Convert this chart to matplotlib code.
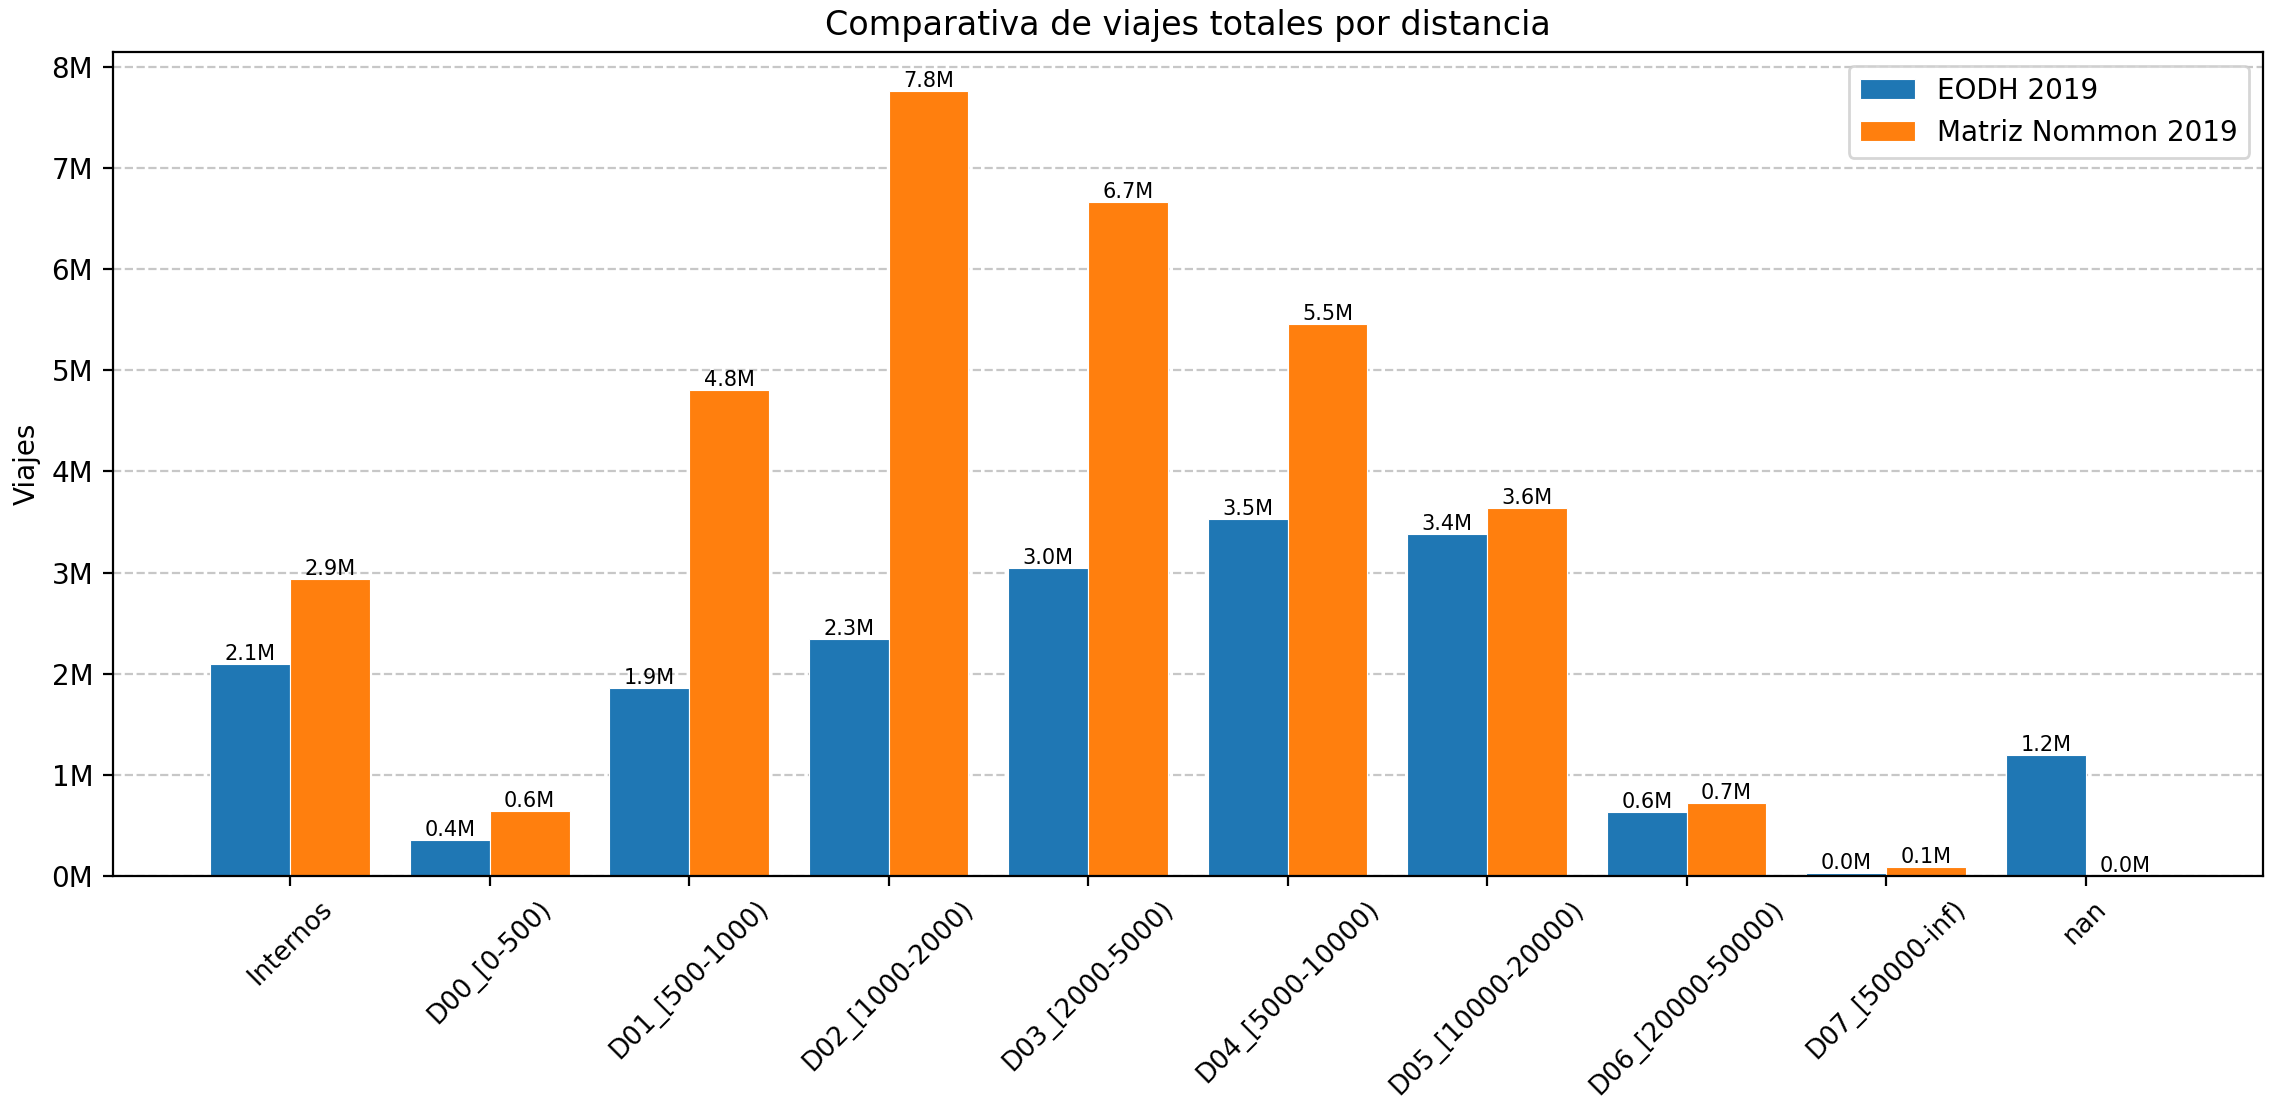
import numpy as np
import matplotlib
matplotlib.use("Agg")
import matplotlib.pyplot as plt
from matplotlib.ticker import FuncFormatter

# Categorias de distancia
categorias = ['Internos', 'D00_[0-500)', 'D01_[500-1000)', 'D02_[1000-2000)',
              'D03_[2000-5000)', 'D04_[5000-10000)', 'D05_[10000-20000)',
              'D06_[20000-50000)', 'D07_[50000-inf)', 'nan']

# Viajes totales (estimados del grafico)
viajes_eodh = [2_100_000, 360_000, 1_860_000, 2_340_000, 3_040_000,
               3_530_000, 3_380_000, 630_000, 34_000, 1_200_000]
viajes_nommon = [2_940_000, 645_000, 4_800_000, 7_760_000, 6_660_000,
                 5_460_000, 3_640_000, 720_000, 85_000, 0]

series = ['EODH 2019', 'Matriz Nommon 2019']

fig = plt.figure(figsize=(11.36, 5.5), dpi=200)
ax = fig.add_axes([0.0496, 0.2036, 0.9465, 0.7494])

x = np.arange(len(categorias))
w = 0.4
b1 = ax.bar(x - w/2, viajes_eodh, w, label=series[0], color='#1f77b4',
            edgecolor='white', linewidth=0.4)
b2 = ax.bar(x + w/2, viajes_nommon, w, label=series[1], color='#ff7f0e',
            edgecolor='white', linewidth=0.4)

# Etiquetas encima de cada barra
for bars in (b1, b2):
    for rect in bars:
        h = rect.get_height()
        ax.text(rect.get_x() + rect.get_width()/2, h, f'{h/1e6:.1f}M',
                ha='center', va='bottom', fontsize=7.5)

ax.set_xticks(x)
ax.set_xticklabels(categorias, rotation=45, fontsize=9.4)
ax.yaxis.set_major_formatter(FuncFormatter(lambda v, p: f'{v/1e6:.0f}M'))
ax.set_ylabel('Viajes')
ax.set_title('Comparativa de viajes totales por distancia')
ax.grid(axis='y', linestyle='--', alpha=0.7)
ax.set_axisbelow(True)
ax.legend(loc='upper right')

fig.savefig('out.png', dpi=200)
